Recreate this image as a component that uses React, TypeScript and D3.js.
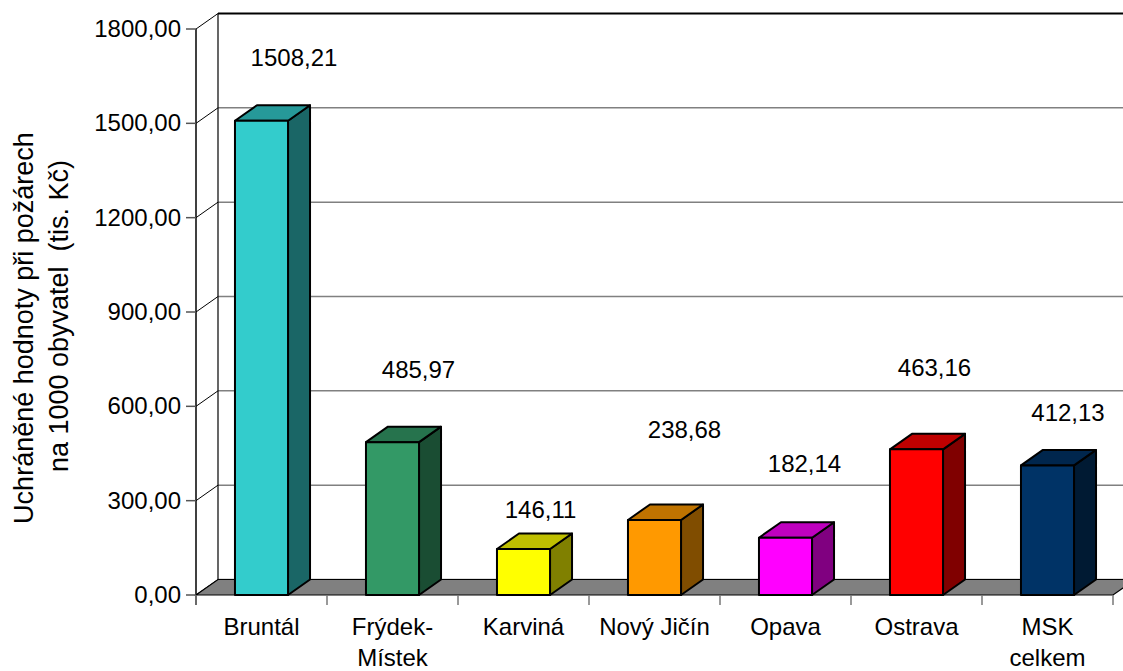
import React from 'react';
import * as d3 from 'd3';

// ---- data ----
const categories: string[][] = [
  ['Bruntál'],
  ['Frýdek-', 'Místek'],
  ['Karviná'],
  ['Nový Jičín'],
  ['Opava'],
  ['Ostrava'],
  ['MSK', 'celkem'],
];
const values: number[] = [1508.21, 485.97, 146.11, 238.68, 182.14, 463.16, 412.13];
const barColors: string[] = ['#33CCCC', '#339966', '#FFFF00', '#FF9900', '#FF00FF', '#FF0000', '#003366'];
const yTicks: number[] = [0, 300, 600, 900, 1200, 1500, 1800];
const yTitle: string[] = ['Uchráněné hodnoty při požárech', 'na 1000 obyvatel  (tis. Kč)'];

// ---- layout (manual label placement as in the original) ----
const labelNudge: [number, number][] = [
  [32.5, -55], [26, -64], [17, -31], [30, -82], [19, -66], [18, -73], [20.5, -44],
];

const W = 1123;
const H = 671;
const FONT = '"Liberation Sans", Arial, sans-serif';
const DX = 22;
const DY = -15.5;

const locale = d3.formatLocale({ decimal: ',', thousands: ' ', grouping: [3], currency: ['', ''] });
const fmt = locale.format('.2f');

function shade(c: string, k: number): string {
  const r = d3.rgb(c);
  return d3.rgb(r.r * k, r.g * k, r.b * k).formatHex();
}

export default function App() {
  const y = d3.scaleLinear().domain([0, 1800]).range([595, 29]);
  const x = d3.scaleBand<number>().domain(values.map((_, i) => i)).range([196, 1113]).paddingInner(0).paddingOuter(0);
  const bw = x.bandwidth();
  const barW = bw * 0.405;
  const xL = 196;
  const xR = 1113;
  const y0 = y(0);

  return (
    <svg width={W} height={H} style={{ position: 'absolute', left: 0, top: 0, background: '#fff' }} fontFamily={FONT}>
      {/* back wall gridlines */}
      {yTicks.map((t) => (
        <line key={'g' + t} x1={xL + DX} x2={xR + DX + 40} y1={y(t) + DY} y2={y(t) + DY}
          stroke={t === 1800 ? '#000' : '#808080'} strokeWidth={t === 1800 ? 1.8 : 1.5} />
      ))}
      {/* back wall left edge */}
      <line x1={xL + DX} x2={xL + DX} y1={y(1800) + DY} y2={y0 + DY} stroke="#000" strokeWidth={1.2} />
      {/* side wall diagonals */}
      {yTicks.map((t) => (
        <line key={'d' + t} x1={xL} y1={y(t)} x2={xL + DX} y2={y(t) + DY} stroke="#000" strokeWidth={1} />
      ))}
      {/* floor */}
      <polygon
        points={[[xL, y0], [xR, y0], [xR + DX, y0 + DY], [xL + DX, y0 + DY]].map((p) => p.join(',')).join(' ')}
        fill="#808080" stroke="#000" strokeWidth={1.2} />
      {/* front vertical axis */}
      <line x1={xL} x2={xL} y1={y(1800)} y2={y0 + 10} stroke="#000" strokeWidth={1.5} />
      {/* y ticks + labels */}
      {yTicks.map((t) => (
        <g key={'t' + t}>
          <line x1={xL - 10} x2={xL} y1={y(t)} y2={y(t)} stroke="#555" strokeWidth={1.5} />
          <text x={181} y={y(t) + 8} textAnchor="end" fontSize={24} fill="#000">{fmt(t)}</text>
        </g>
      ))}
      {/* category ticks */}
      {d3.range(values.length + 1).map((i) => (
        <line key={'c' + i} x1={xL + i * bw} x2={xL + i * bw} y1={y0} y2={y0 + 10} stroke="#777" strokeWidth={1.5} />
      ))}
      {/* bars */}
      {values.map((v, i) => {
        const cx = (x(i) as number) + bw / 2;
        const a = cx - barW / 2;
        const b = cx + barW / 2;
        const top = y(v);
        const c = barColors[i];
        const pts = (arr: number[][]) => arr.map((p) => p.join(',')).join(' ');
        return (
          <g key={'b' + i} stroke="#000" strokeWidth={2} strokeLinejoin="round">
            <polygon points={pts([[b, y0], [b + DX, y0 + DY], [b + DX, top + DY], [b, top]])} fill={shade(c, 0.5)} />
            <polygon points={pts([[a, top], [a + DX, top + DY], [b + DX, top + DY], [b, top]])} fill={shade(c, 0.75)} />
            <rect x={a} y={top} width={barW} height={y0 - top} fill={c} />
          </g>
        );
      })}
      {/* value labels */}
      {values.map((v, i) => {
        const cx = (x(i) as number) + bw / 2;
        return (
          <text key={'v' + i} x={cx + labelNudge[i][0]} y={y(v) + labelNudge[i][1]} textAnchor="middle" fontSize={24} fill="#000">
            {fmt(v)}
          </text>
        );
      })}
      {/* category labels */}
      {categories.map((lines, i) => {
        const cx = (x(i) as number) + bw / 2;
        return (
          <text key={'cl' + i} textAnchor="middle" fontSize={24} fill="#000">
            {lines.map((ln, j) => (
              <tspan key={j} x={cx} y={635 + j * 31}>{ln}</tspan>
            ))}
          </text>
        );
      })}
      {/* y axis title */}
      <text transform="translate(33,328) rotate(-90)" textAnchor="middle" fontSize={27} fill="#000">{yTitle[0]}</text>
      <text transform="translate(68,316) rotate(-90)" textAnchor="middle" fontSize={27} fill="#000" style={{ whiteSpace: 'pre' }}>{yTitle[1]}</text>
    </svg>
  );
}
